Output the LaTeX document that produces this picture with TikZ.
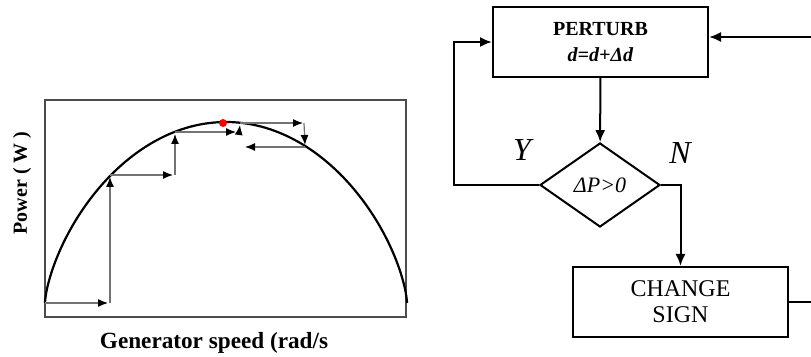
\documentclass[tikz,border=0pt]{standalone}
\usepackage{fontspec}
\setmainfont{Liberation Serif}
\usetikzlibrary{arrows.meta,shapes.geometric,calc}

\begin{document}
\begin{tikzpicture}[>=Latex,x={(0.5pt,0)},y={(0,-0.5pt)},
  stair/.style={->,black!55,line width=0.6pt,>={Latex[color=black,length=5pt,width=4pt]}},
  flowbox/.style={draw,line width=1pt,minimum width=107.5pt,minimum height=35pt,align=center,inner sep=2pt},
  decide/.style={draw,diamond,line width=1pt,minimum width=60pt,minimum height=42pt,inner sep=0pt},
  flow/.style={->,line width=1pt,>={Latex[length=6pt,width=5pt]}}]
  \useasboundingbox (0,0) rectangle (811,357);
  \clip (0,0) rectangle (811,357);
  % Power curve P(omega), peak at the red point
  \draw[black!70,line width=0.8pt] (45,100) rectangle (406,317);
  \draw[line width=1.1pt,domain=0.2:179.8,samples=120,variable=\t]
    plot ({226+181*cos(\t)},{303-181*abs(sin(\t))^1.34});
  % Hill climbing steps
  \foreach \p/\q in {{(45,303)}/{(108,303)},{(110,303)}/{(110,177)},
      {(110,175)}/{(173,175)},{(175,175)}/{(175,134)},{(175,132)}/{(236,132)},
      {(239,133)}/{(240,125)},{(240,123)}/{(303,123)},{(304,123)}/{(305,145)},
      {(305,147)}/{(245,147)}}{
    \draw[stair] \p -- \q;
  }
  \fill[red] (223,123) circle (2pt);
  \node[font=\bfseries\fontsize{11.6}{13}\selectfont] (xlab) at (214,343) {Generator speed (rad/s};
  \node[font=\bfseries,rotate=90] (ylab) at (22,183) {Power ( W )};
  % Flow chart
  \node[flowbox,font=\bfseries] (perturb) at (600.5,42) {PERTURB\\[1pt]\textit{d=d+Δd}};
  \node[decide,font=\itshape\fontsize{11}{13}\selectfont] (test) at (600,185) {ΔP>0};
  \node[flowbox,font=\fontsize{12}{13}\selectfont] (chg) at (680.5,302) {CHANGE\\SIGN};
  \node[font=\itshape\fontsize{16}{18}\selectfont] (yes) at (522,150) {Y};
  \node[font=\itshape\fontsize{16}{18}\selectfont] (no) at (680,153) {N};
  \draw[flow] (perturb) -- (test);
  \draw[flow] (test.west) -- ++(-85,0) |- (perturb.west);
  \draw[flow] (test.east) -| (chg.north);
  \draw[flow] (chg.east) -- ++(40,0) |- ([yshift=2.5pt]perturb.east);
\end{tikzpicture}
\end{document}
